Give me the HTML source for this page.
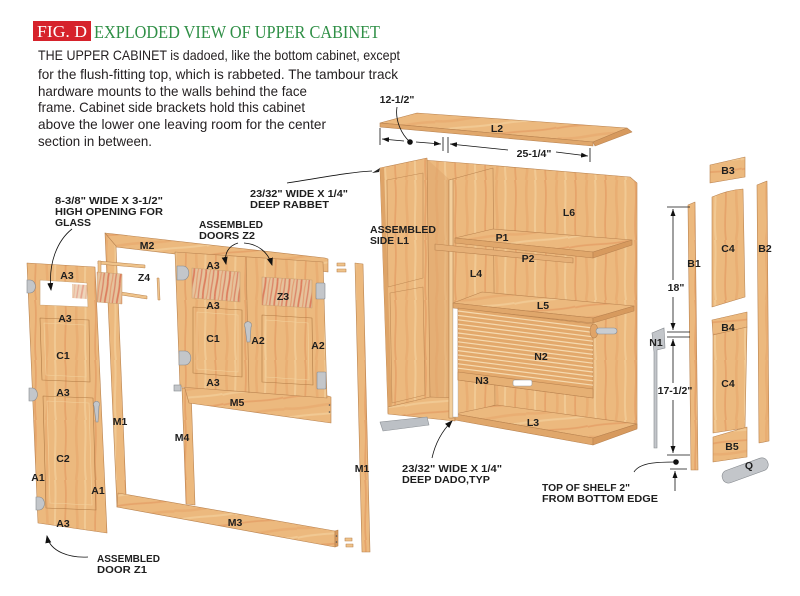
<!DOCTYPE html>
<html><head><meta charset="utf-8"><style>
html,body{margin:0;padding:0;background:#fff;}
svg{display:block;}
.l{font-family:"Liberation Sans",Arial,sans-serif;font-weight:bold;font-size:10.5px;fill:#1e1e1e;}
.c{text-anchor:middle;}
.b{font-family:"Liberation Sans",Arial,sans-serif;font-size:14px;fill:#231f20;}
</style></head><body>
<svg width="800" height="596" viewBox="0 0 800 596" xmlns="http://www.w3.org/2000/svg">
<defs>
<pattern id="wv" patternUnits="userSpaceOnUse" width="30" height="60">
 <rect width="30" height="60" fill="#ecb97e"/>
 <path d="M5,0 C8,20 3,40 6,60" stroke="#e2945a" stroke-width="1.8" fill="none" opacity=".55"/>
 <path d="M17,0 C14,22 20,38 16,60" stroke="#e59f66" stroke-width="2.6" fill="none" opacity=".45"/>
 <path d="M25,0 C27,18 23,42 26,60" stroke="#f5d3a2" stroke-width="2" fill="none" opacity=".6"/>
</pattern>
<pattern id="wh" patternUnits="userSpaceOnUse" width="30" height="60" patternTransform="rotate(84)">
 <rect width="30" height="60" fill="#ecb97e"/>
 <path d="M5,0 C8,20 3,40 6,60" stroke="#e2945a" stroke-width="1.8" fill="none" opacity=".55"/>
 <path d="M17,0 C14,22 20,38 16,60" stroke="#e59f66" stroke-width="2.6" fill="none" opacity=".45"/>
 <path d="M25,0 C27,18 23,42 26,60" stroke="#f5d3a2" stroke-width="2" fill="none" opacity=".6"/>
</pattern>
<pattern id="gl" patternUnits="userSpaceOnUse" width="12" height="24" patternTransform="rotate(8)">
 <rect width="12" height="24" fill="#e6c39c"/>
 <path d="M2,0 C3,8 1,16 2,24" stroke="#d9593e" stroke-width="1.8" fill="none" opacity=".65"/>
 <path d="M6,0 C5,8 7,16 6,24" stroke="#e07a50" stroke-width="1.2" fill="none" opacity=".55"/>
 <path d="M9.5,0 C10,8 9,16 9.5,24" stroke="#d04a35" stroke-width="1.4" fill="none" opacity=".5"/>
</pattern>
<marker id="ah" markerWidth="8" markerHeight="8" refX="7" refY="4" orient="auto" markerUnits="userSpaceOnUse"><path d="M0,1 L8,4 L0,7 z" fill="#111"/></marker>
<marker id="da" markerWidth="7" markerHeight="5" refX="7" refY="2.5" orient="auto" markerUnits="userSpaceOnUse"><path d="M0,0 L7,2.5 L0,5 z" fill="#111"/></marker>
</defs>

<!-- Header -->
<rect x="33" y="21" width="58" height="20" fill="#d6222b"/>
<text x="37" y="37" font-family="Liberation Serif,serif" font-size="17" fill="#fff" textLength="50" lengthAdjust="spacingAndGlyphs">FIG. D</text>
<text x="94" y="38" font-family="Liberation Serif,serif" font-size="18" fill="#2f8f46" textLength="286" lengthAdjust="spacingAndGlyphs">EXPLODED VIEW OF UPPER CABINET</text>

<text class="b" x="38" y="60" textLength="362" lengthAdjust="spacingAndGlyphs">THE UPPER CABINET is dadoed, like the bottom cabinet, except</text>
<text class="b" x="38" y="79" textLength="360" lengthAdjust="spacingAndGlyphs">for the flush-fitting top, which is rabbeted. The tambour track</text>
<text class="b" x="38" y="96" textLength="269" lengthAdjust="spacingAndGlyphs">hardware mounts to the walls behind the face</text>
<text class="b" x="38" y="112" textLength="267" lengthAdjust="spacingAndGlyphs">frame. Cabinet side brackets hold this cabinet</text>
<text class="b" x="38" y="129" textLength="288" lengthAdjust="spacingAndGlyphs">above the lower one leaving room for the center</text>
<text class="b" x="38" y="146" textLength="114" lengthAdjust="spacingAndGlyphs">section in between.</text>

<!-- ===== CABINET ===== -->
<g stroke="#b98350" stroke-width=".6" stroke-linejoin="round">
 <polygon points="423,160 475,164 630,177 637,183 637,428 455,420 430,398" fill="url(#wv)"/>
 <polygon points="427,159 449,179 449,418 430,398" fill="#dda46a" stroke="none" opacity=".45"/>
 <!-- side L1 front -->
 <polygon points="380,168 427,158 430,398 388,413" fill="url(#wv)"/>
 <polygon points="387,180 423,173 423,278 388,287" fill="none" stroke="#c08a55"/>
 <polygon points="390,293 423,287 425,395 392,403" fill="none" stroke="#c08a55"/>
 <polygon points="380,168 384,167 392,412 388,413" fill="#dea468" stroke="none"/>
 <!-- floor -->
 <polygon points="388,407 430,397 455,398 455,421 388,414" fill="url(#wh)"/>
 <!-- divider L4 -->
 <polygon points="449,180 493,168 495,405 455,418 449,418" fill="url(#wv)"/>
 <polygon points="449,180 453,179 453,418 449,418" fill="#f3cf9c"/>
 <!-- L3 -->
 <polygon points="455,414 497,405 637,424 593,438" fill="url(#wh)"/>
 <polygon points="455,414 593,438 593,445 455,420" fill="#e0a76b"/>
 <polygon points="593,438 637,424 637,429 593,445" fill="#d79a5e"/>
 <!-- white track -->
 <polygon points="453,306 458,307 458,417 453,417" fill="#fff" stroke="#aaa" stroke-width=".4"/>
 <!-- L5 -->
 <polygon points="453,303 482,292 634,306 593,318" fill="url(#wh)"/>
 <polygon points="453,303 593,318 593,323 453,308" fill="#e0a76b"/>
 <polygon points="593,318 634,306 634,311 593,323" fill="#d79a5e"/>
 <!-- tambour N2 -->
 <polygon points="458,308 593,324 593,398 458,380" fill="#e3a96c"/>
 <path d="M458,311 L593,328 M458,315.4 L593,332.4 M458,319.8 L593,336.8 M458,324.2 L593,341.2 M458,328.6 L593,345.6 M458,333 L593,350 M458,337.4 L593,354.4 M458,341.8 L593,358.8 M458,346.2 L593,363.2 M458,350.6 L593,367.6 M458,355 L593,372 M458,359.4 L593,376.4 M458,363.8 L593,380.8 M458,368.2 L593,385.2" stroke="#f5dab0" stroke-width="1.2"/>
 <polygon points="458,372 593,389 593,398 458,380" fill="#e6b074"/>
 <ellipse cx="594" cy="331" rx="4" ry="7" fill="#e0a468"/>
 <rect x="596" y="328" width="21" height="6" rx="3" fill="#c9cdd2" stroke="#8a8e94"/>
 <rect x="513" y="380" width="19" height="6" rx="2" fill="#fff" stroke="#999"/>
 <!-- P1 -->
 <polygon points="455,238 493,229 632,240 593,252" fill="url(#wh)"/>
 <polygon points="455,238 593,252 593,258 455,243" fill="#e0a76b"/>
 <polygon points="593,252 632,240 632,245 593,258" fill="#d79a5e"/>
 <!-- P2 -->
 <polygon points="435,244 573,258 573,263 435,250" fill="#e6b077"/>
 <!-- bracket under cabinet -->
 <polygon points="380,422 427,417 429,425 383,431" fill="#bcc0c5" stroke="#8d9196"/>
 <!-- L2 top -->
 <polygon points="380,123 417,113 627,128 593,142" fill="url(#wh)"/>
 <polygon points="380,123 593,142 593,146 380,127" fill="#e0a76b"/>
 <polygon points="593,142 627,128 632,132 595,146" fill="#d79a5e"/>
</g>
<polygon points="372,173 380,168 379,172" fill="#222"/>

<!-- ===== FACE FRAME ===== -->
<g stroke="#b98350" stroke-width=".6" stroke-linejoin="round">
 <polygon points="105,233 325,258 328,259 328,272 116,247" fill="url(#wh)"/>
 <polygon points="105,233 116,246 126,494 117,507" fill="url(#wv)"/>
 <polygon points="118,493 335,531 335,547 117,507" fill="url(#wh)"/>
 <polygon points="335,531 338,530 338,546 335,547" fill="#d79a5e"/>
 <polygon points="182,388 191,389 195,505 186,504" fill="url(#wv)"/>
 <polygon points="184,385 328,396 331,397 331,423 189,403" fill="url(#wh)"/>
 <polygon points="355,263 363,264 370,552 362,552" fill="url(#wv)"/>
 <rect x="337" y="263" width="8" height="3" fill="#efc38a"/>
 <rect x="337" y="269" width="9" height="3" fill="#efc38a"/>
 <rect x="345" y="538" width="7" height="3" fill="#efc38a"/>
 <rect x="346" y="544" width="7" height="3" fill="#efc38a"/>
</g>
<circle cx="336.5" cy="536" r=".8" fill="#555"/><circle cx="336.5" cy="542" r=".8" fill="#555"/>
<circle cx="329.5" cy="405" r=".8" fill="#555"/><circle cx="329.5" cy="412" r=".8" fill="#555"/>

<!-- ===== DOORS Z2 ===== -->
<g stroke="#b98350" stroke-width=".6" stroke-linejoin="round">
 <polygon points="175,252 323,262 327,398 180,387" fill="url(#wv)"/>
 <line x1="246" y1="257" x2="249" y2="393"/>
 <polygon points="192,268 240,272 240,302 192,298" fill="url(#gl)" stroke="#c9a070"/>
 <polygon points="193,307 242,310 242,377 193,373" fill="url(#wv)" stroke="#b07a45"/>
 <polygon points="197,312 238,315 238,372 197,369" fill="none" stroke="#f3d29e"/>
 <polygon points="262,277 312,280 312,308 262,305" fill="url(#gl)" stroke="#c9a070"/>
 <polygon points="262,315 312,318 313,385 262,382" fill="url(#wv)" stroke="#b07a45"/>
 <polygon points="266,320 308,323 309,380 266,377" fill="none" stroke="#f3d29e"/>
</g>
<g fill="#c3c6ca" stroke="#85898e" stroke-width=".6">
 <path d="M177,266 L183,266 A5,6 0 0 1 183,280 L177,280 z"/>
 <path d="M179,351 L185,351 A5,6 0 0 1 185,365 L179,365 z"/>
 <rect x="316" y="283" width="9" height="16" rx="1"/>
 <rect x="317" y="372" width="9" height="17" rx="1"/>
 <path d="M245,327 a3.5,3.5 0 1 1 6,0 l-1,15 h-3 z"/>
 <rect x="174" y="385" width="7" height="6"/>
</g>

<!-- ===== Z4 ===== -->
<g stroke="#b98350" stroke-width=".5">
 <polygon points="98,261 145,265 145,268 98,264" fill="#efc38a"/>
 <polygon points="98,261 101,261 101,276 98,276" fill="#efc38a"/>
 <polygon points="121,292 147,296 147,299 121,295" fill="#efc38a"/>
 <polygon points="157,278 159,278 160,300 158,300" fill="#efc38a"/>
</g>

<!-- ===== DOOR Z1 ===== -->
<g stroke="#b98350" stroke-width=".6" stroke-linejoin="round">
 <polygon points="27,263 95,267 107,533 38,523" fill="url(#wv)"/>
 <polygon points="40,280 87,283 88,307 40,305" fill="#fff" stroke="#c9a070"/>
 <polygon points="72,284 87,285 87,299 72,298" fill="url(#gl)" opacity=".7" stroke="none"/>
 <polygon points="40,318 89,320 90,382 42,380" fill="url(#wv)" stroke="#b07a45"/>
 <polygon points="44,323 85,325 86,377 46,375" fill="none" stroke="#f3d29e"/>
 <polygon points="43,396 93,398 96,510 46,508" fill="url(#wv)" stroke="#b07a45"/>
 <polygon points="47,401 89,403 92,505 50,503" fill="none" stroke="#f3d29e"/>
</g>
<polygon points="97,272 122,274 122,304 97,302" fill="url(#gl)" stroke="#c9a070" stroke-width=".5"/>
<g fill="#c3c6ca" stroke="#85898e" stroke-width=".6">
 <path d="M27,280 L30,280 A5,6 0 0 1 30,293 L27,293 z"/>
 <path d="M29,388 L32,388 A5,6 0 0 1 32,401 L29,401 z"/>
 <path d="M36,497 L39,497 A5,6 0 0 1 39,510 L36,510 z"/>
 <path d="M94,406 a3,3 0 1 1 5,0 l-1,16 h-2 z"/>
</g>

<!-- ===== RIGHT COLUMN PIECES ===== -->
<g stroke="#b98350" stroke-width=".6" stroke-linejoin="round">
 <polygon points="710,165 745,157 745,177 710,183" fill="url(#wh)"/>
 <path d="M712,197 Q728,190 743,189 L745,297 L712,307 z" fill="url(#wv)"/>
 <polygon points="712,320 747,312 747,327 713,335" fill="url(#wh)"/>
 <polygon points="713,335 747,327 745,428 713,433" fill="url(#wv)"/>
 <polygon points="713,437 747,427 747,457 713,462" fill="url(#wh)"/>
 <polygon points="688,205 695,202 698,470 691,470" fill="url(#wv)"/>
 <polygon points="757,185 767,181 769,441 759,443" fill="url(#wv)"/>
</g>
<g fill="#c3c6ca" stroke="#85898e" stroke-width=".6">
 <polygon points="652,333 664,328 665,348 657,350 657,448 654,448 654,352"/>
 <g transform="rotate(-20 745 470)"><rect x="721" y="464" width="48" height="13" rx="6"/></g>
</g>

<!-- ===== DIMENSIONS ===== -->
<g stroke="#111" stroke-width=".8" fill="none">
 <line x1="380" y1="128" x2="380" y2="145"/>
 <line x1="443" y1="137" x2="443" y2="151"/>
 <line x1="448" y1="137" x2="448" y2="153"/>
 <line x1="590" y1="148" x2="590" y2="162"/>
 <line x1="404" y1="141" x2="382" y2="139" marker-end="url(#da)"/>
 <line x1="416" y1="142" x2="441" y2="144" marker-end="url(#da)"/>
 <line x1="508" y1="150" x2="450" y2="144" marker-end="url(#da)"/>
 <line x1="556" y1="152" x2="588" y2="156" marker-end="url(#da)"/>
 <path d="M397,107 C395,120 401,134 410,142"/>
 <line x1="667" y1="207" x2="690" y2="207"/>
 <line x1="667" y1="332" x2="690" y2="332"/>
 <line x1="667" y1="337" x2="690" y2="337"/>
 <line x1="667" y1="455" x2="690" y2="455"/>
 <line x1="670" y1="469" x2="687" y2="469"/>
 <line x1="673" y1="280" x2="673" y2="209" marker-end="url(#da)"/>
 <line x1="673" y1="297" x2="673" y2="330" marker-end="url(#da)"/>
 <line x1="673" y1="383" x2="673" y2="339" marker-end="url(#da)"/>
 <line x1="673" y1="400" x2="673" y2="453" marker-end="url(#da)"/>
 <line x1="675" y1="491" x2="675" y2="471" marker-end="url(#da)"/>
 <path d="M634,472 C640,462 660,462 675,462"/>
 <path d="M72,229 C58,240 48,262 51,290" marker-end="url(#ah)"/>
 <path d="M238,243 C228,246 224,254 226,264" marker-end="url(#ah)"/>
 <path d="M244,243 C258,244 268,252 272,265" marker-end="url(#ah)"/>
 <path d="M287,183 C320,178 350,172 372,171"/>
 <path d="M432,458 C436,440 445,428 452,421" marker-end="url(#ah)"/>
 <path d="M88,557 C70,558 50,552 47,536" marker-end="url(#ah)"/>
</g>
<circle cx="410" cy="142" r="2.8" fill="#111"/>
<circle cx="676" cy="462" r="2.8" fill="#111"/>

<!-- ===== LABELS ===== -->
<g class="l">
 <text x="397" y="103" class="c">12-1/2"</text>
 <text x="534" y="157" class="c">25-1/4"</text>
 <text x="676" y="291" class="c">18"</text>
 <text x="675" y="394" class="c">17-1/2"</text>

 <text x="55" y="204" textLength="108" lengthAdjust="spacingAndGlyphs">8-3/8" WIDE X 3-1/2"</text>
 <text x="55" y="215" textLength="108" lengthAdjust="spacingAndGlyphs">HIGH OPENING FOR</text>
 <text x="55" y="226" textLength="36" lengthAdjust="spacingAndGlyphs">GLASS</text>
 <text x="250" y="197" textLength="98" lengthAdjust="spacingAndGlyphs">23/32" WIDE X 1/4"</text>
 <text x="250" y="208" textLength="79" lengthAdjust="spacingAndGlyphs">DEEP RABBET</text>
 <text x="199" y="228" textLength="64" lengthAdjust="spacingAndGlyphs">ASSEMBLED</text>
 <text x="199" y="239" textLength="56" lengthAdjust="spacingAndGlyphs">DOORS Z2</text>
 <text x="370" y="233" textLength="66" lengthAdjust="spacingAndGlyphs">ASSEMBLED</text>
 <text x="370" y="244" textLength="39" lengthAdjust="spacingAndGlyphs">SIDE L1</text>
 <text x="97" y="562" textLength="63" lengthAdjust="spacingAndGlyphs">ASSEMBLED</text>
 <text x="97" y="573" textLength="50" lengthAdjust="spacingAndGlyphs">DOOR Z1</text>
 <text x="402" y="472" textLength="100" lengthAdjust="spacingAndGlyphs">23/32" WIDE X 1/4"</text>
 <text x="402" y="483" textLength="88" lengthAdjust="spacingAndGlyphs">DEEP DADO,TYP</text>
 <text x="542" y="491" textLength="88" lengthAdjust="spacingAndGlyphs">TOP OF SHELF 2"</text>
 <text x="542" y="502" textLength="116" lengthAdjust="spacingAndGlyphs">FROM BOTTOM EDGE</text>

 <text x="147" y="249" class="c">M2</text>
 <text x="144" y="281" class="c">Z4</text>
 <text x="67" y="279" class="c">A3</text>
 <text x="65" y="322" class="c">A3</text>
 <text x="63" y="359" class="c">C1</text>
 <text x="63" y="396" class="c">A3</text>
 <text x="63" y="462" class="c">C2</text>
 <text x="38" y="481" class="c">A1</text>
 <text x="98" y="494" class="c">A1</text>
 <text x="63" y="527" class="c">A3</text>
 <text x="213" y="269" class="c">A3</text>
 <text x="213" y="309" class="c">A3</text>
 <text x="213" y="342" class="c">C1</text>
 <text x="258" y="344" class="c">A2</text>
 <text x="318" y="349" class="c">A2</text>
 <text x="213" y="386" class="c">A3</text>
 <text x="283" y="300" class="c">Z3</text>
 <text x="237" y="406" class="c">M5</text>
 <text x="120" y="425" class="c">M1</text>
 <text x="182" y="441" class="c">M4</text>
 <text x="362" y="472" class="c">M1</text>
 <text x="235" y="526" class="c">M3</text>
 <text x="497" y="132" class="c">L2</text>
 <text x="569" y="216" class="c">L6</text>
 <text x="502" y="241" class="c">P1</text>
 <text x="528" y="262" class="c">P2</text>
 <text x="476" y="277" class="c">L4</text>
 <text x="543" y="309" class="c">L5</text>
 <text x="541" y="360" class="c">N2</text>
 <text x="482" y="384" class="c">N3</text>
 <text x="533" y="426" class="c">L3</text>
 <text x="728" y="174" class="c">B3</text>
 <text x="728" y="252" class="c">C4</text>
 <text x="694" y="267" class="c">B1</text>
 <text x="765" y="252" class="c">B2</text>
 <text x="656" y="346" class="c">N1</text>
 <text x="728" y="331" class="c">B4</text>
 <text x="728" y="387" class="c">C4</text>
 <text x="732" y="450" class="c">B5</text>
 <text x="749" y="469" class="c">Q</text>
</g>
</svg>
</body></html>
